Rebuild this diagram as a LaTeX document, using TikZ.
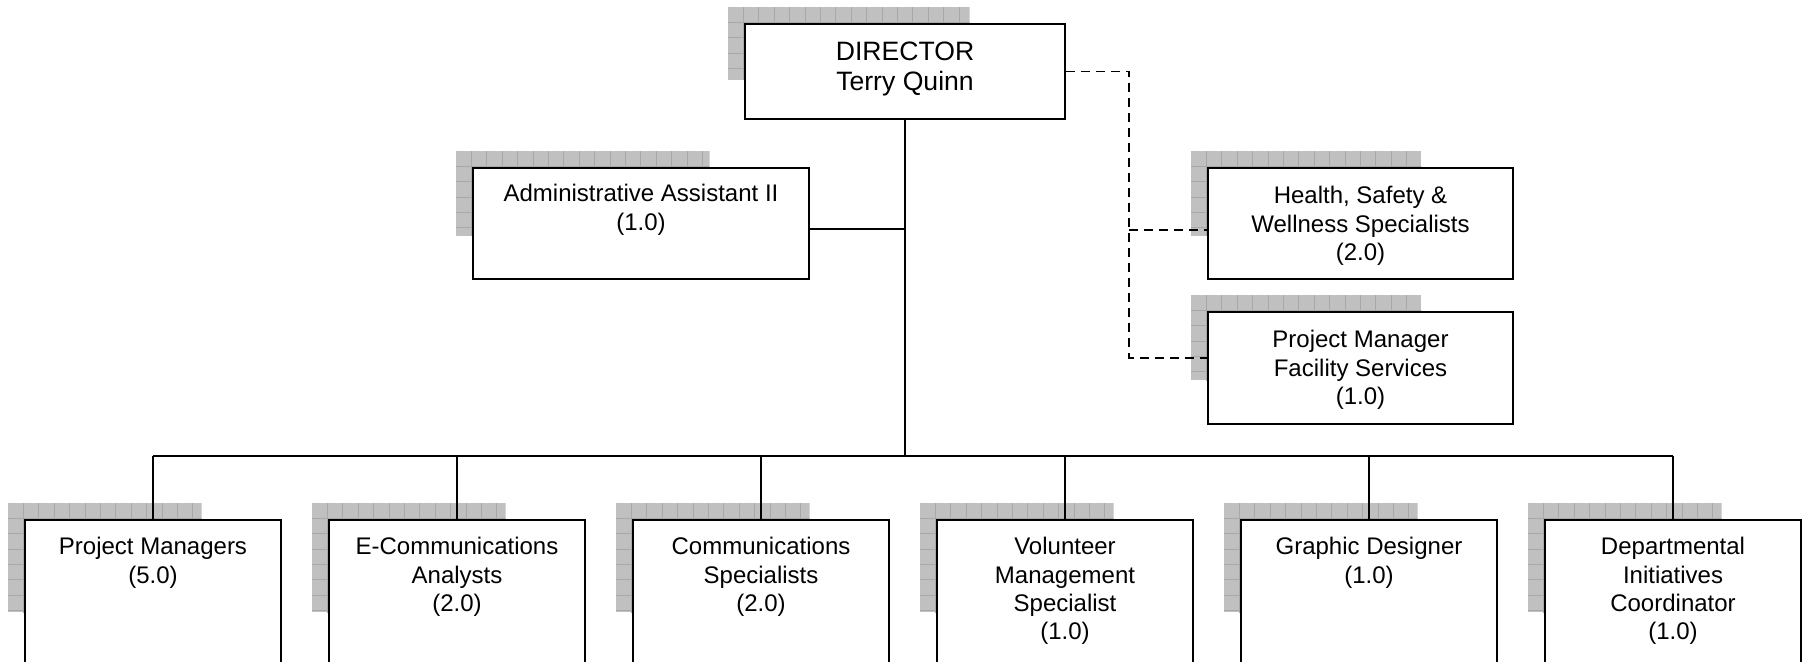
\documentclass[tikz,border=0pt]{standalone}
\usepackage{fontspec}
\setmainfont{Liberation Sans}
\usetikzlibrary{positioning,calc,backgrounds}

\definecolor{shadowgrey}{RGB}{192,192,192}
\definecolor{gridgrey}{RGB}{168,168,168}

\tikzset{
  orgbox/.style={draw, line width=1pt, fill=white, inner sep=0pt},
  orgtext/.style={align=center, inner sep=0pt, font=\fontsize{12}{14.2}\selectfont},
  headtext/.style={orgtext, font=\fontsize{13.3}{15}\selectfont},
  link/.style={line width=1pt},
  dashlink/.style={line width=0.9pt, dash pattern=on 4.5pt off 3pt},
  gridline/.style={draw=gridgrey, line width=0.5pt}
}

% grey grid block behind the upper left corner of a box
\newcommand{\gridshadow}[1]{%
  \coordinate (sa) at ($(#1.north west)+(-16,16)$);
  \coordinate (sb) at ($(#1.north west)!0.75!(#1.south east)+(-16,16)$);
  \begin{scope}
    \clip (sa) rectangle (sb);
    \fill[shadowgrey] (sa) rectangle (sb);
    \foreach \k in {1,...,20} {
      \draw[gridline] ($(sa)+(\k*15.4,0)$) -- ++(0,-300);
      \draw[gridline] ($(sa)+(0,-\k*15.4)$) -- ++(400,0);
    }
  \end{scope}}

\begin{document}
\begin{tikzpicture}[x=0.5pt, y=0.5pt]
  \useasboundingbox (0,0) rectangle (1803,662);

  % director
  \node[orgbox, minimum width=160pt, minimum height=47.5pt] (dir) at (905,590.5) {};
  \node[headtext, below=9.5pt of dir.north] (dir-t) {DIRECTOR\\Terry Quinn};

  % staff boxes
  \node[orgbox, minimum width=168pt, minimum height=55.5pt] (adm) at (641,438.5) {};
  \node[orgtext, below=8.5pt of adm.north] (adm-t) {Administrative Assistant II\\(1.0)};

  \node[orgbox, minimum width=152.5pt, minimum height=55.5pt] (hsw) at (1360.5,438.5) {};
  \node[orgtext, below=9.5pt of hsw.north] (hsw-t) {Health, Safety \&\\Wellness Specialists\\(2.0)};

  \node[orgbox, minimum width=152.5pt, minimum height=56pt] (pmf) at (1360.5,294) {};
  \node[orgtext, below=9.5pt of pmf.north] (pmf-t) {Project Manager\\Facility Services\\(1.0)};

  % bottom row
  \foreach \i/\x/\txt in {1/153/{Project Managers\\(5.0)},
                          2/457/{E-Communications\\Analysts\\(2.0)},
                          3/761/{Communications\\Specialists\\(2.0)},
                          4/1065/{Volunteer\\Management\\Specialist\\(1.0)},
                          5/1369/{Graphic Designer\\(1.0)},
                          6/1673/{Departmental\\Initiatives\\Coordinator\\(1.0)}} {
    \node[orgbox, minimum width=128pt, minimum height=72pt] (b\i) at (\x,70) {};
    \node[orgtext, below=9pt of b\i.north] (b\i-t) {\txt};
  }

  % shadows
  \begin{scope}[on background layer]
    \gridshadow{dir}
    \gridshadow{adm}
    \gridshadow{hsw}
    \gridshadow{pmf}
    \foreach \i in {1,...,6} {\gridshadow{b\i}}
  \end{scope}

  % solid lines
  \coordinate (bus) at (905,206);
  \draw[link] (dir.south) -- (bus);
  \draw[link] (b1.north |- bus) -- (b6.north |- bus);
  \foreach \i in {1,...,6} {
    \draw[link] (b\i.north) -- (b\i.north |- bus);
  }
  \coordinate (adm-in) at ($(adm.north east)+(0,-62)$);
  \draw[link] (adm-in) -- (adm-in -| dir.south);

  % dashed lines
  \coordinate (dashx) at (1129,0);
  \coordinate (hsw-in) at ($(hsw.north west)+(0,-63)$);
  \coordinate (pmf-in) at ($(pmf.north west)+(0,-47)$);
  \draw[dashlink] (dir.east) -| (dashx |- pmf-in) -- (pmf-in);
  \draw[dashlink] (dashx |- hsw-in) -- (hsw-in);
\end{tikzpicture}
\end{document}
